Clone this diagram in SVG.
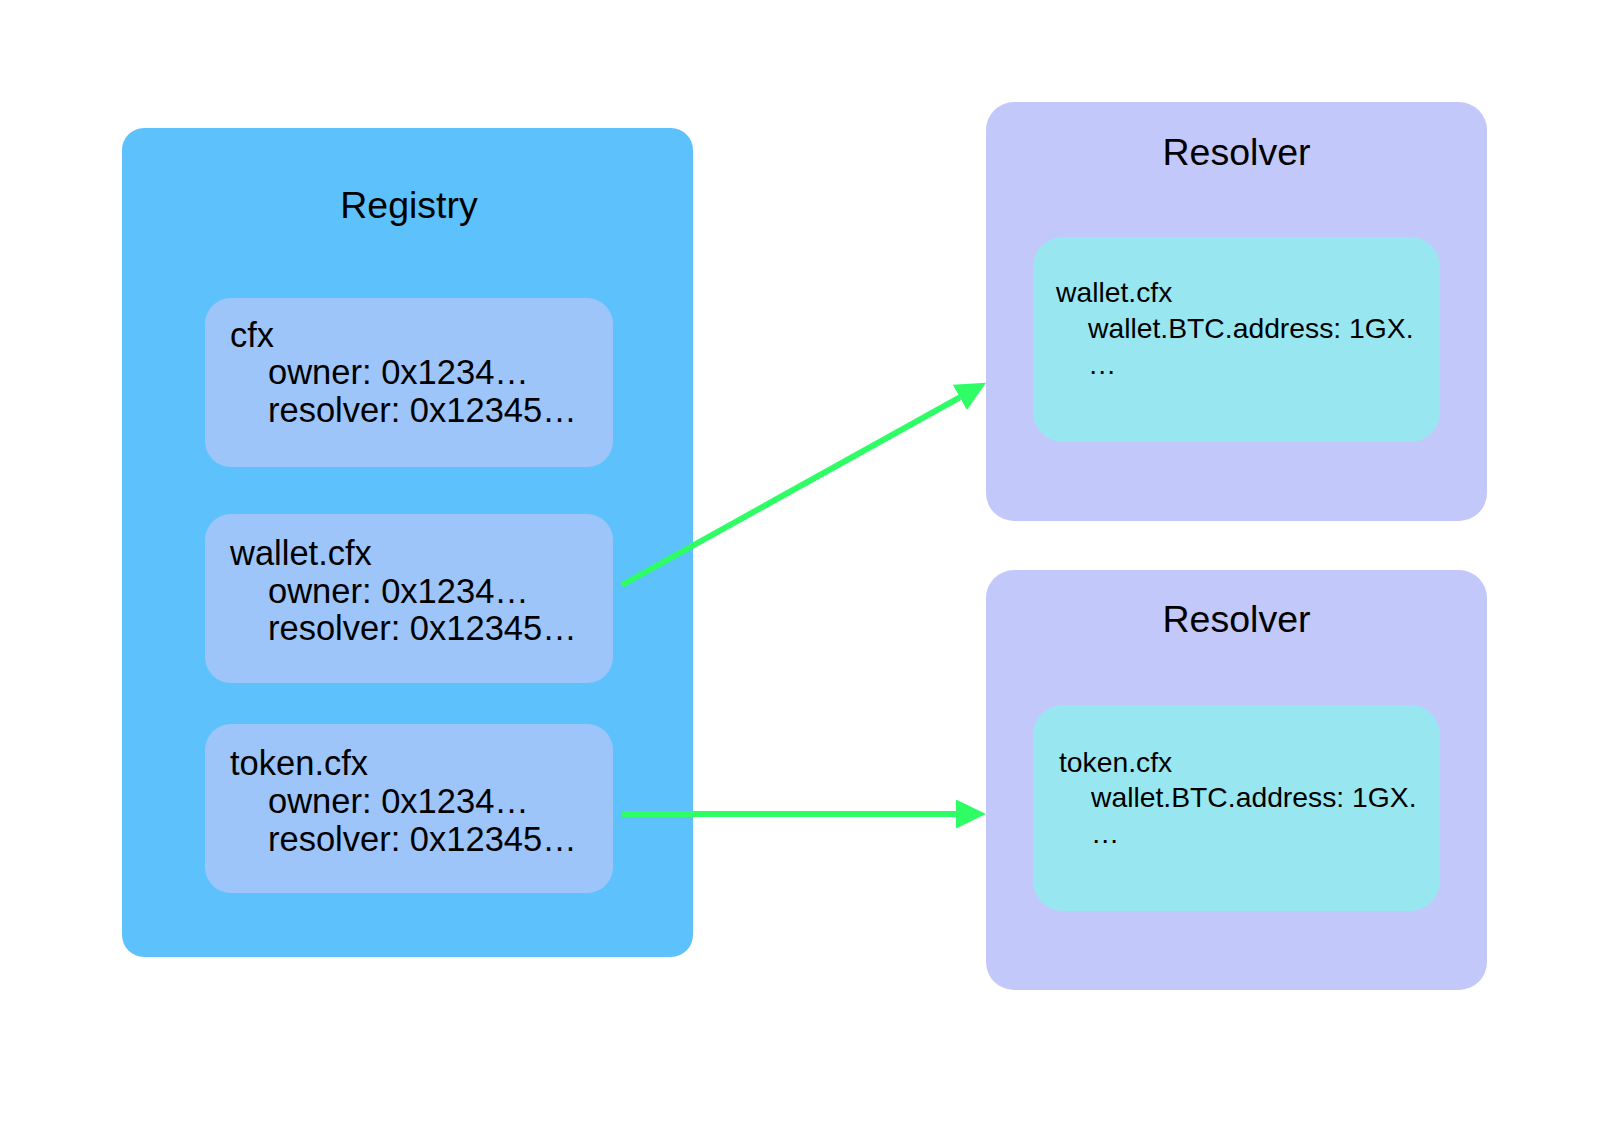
<svg xmlns="http://www.w3.org/2000/svg" width="1620" height="1124" viewBox="0 0 1620 1124">
  <style>
    text { font-family: "Liberation Sans", Arial, Helvetica, sans-serif; fill: #000000; }
    .title { font-size: 37.5px; text-anchor: middle; }
    .reg { font-size: 34.5px; }
    .res { font-size: 28.3px; }
    .registry { fill: #5DC2FC; }
    .entry { fill: #9DC5FA; }
    .resolver { fill: #C3C8FA; }
    .record { fill: #98E7F0; }
    .edge { stroke: #2EFD66; stroke-width: 6; fill: none; }
  </style>
  <defs>
    <marker id="arrow" markerUnits="userSpaceOnUse" markerWidth="30" markerHeight="29" refX="0" refY="14.5" orient="auto">
      <path d="M0,0 L30,14.5 L0,29 Z" fill="#2EFD66"/>
    </marker>
  </defs>
  <rect width="1620" height="1124" fill="#FFFFFF"/>

  <g id="registry">
    <rect class="registry" x="122" y="128" width="571" height="829" rx="22" ry="22"/>
    <text class="title" x="409" y="218">Registry</text>
  </g>

  <g id="entry-cfx">
    <rect class="entry" x="205" y="298" width="408" height="169" rx="26" ry="26"/>
    <text class="reg" x="230" y="347">cfx</text>
    <text class="reg" x="268" y="384">owner: 0x1234…</text>
    <text class="reg" x="268" y="422">resolver: 0x12345…</text>
  </g>

  <g id="entry-wallet">
    <rect class="entry" x="205" y="514" width="408" height="169" rx="26" ry="26"/>
    <text class="reg" x="230" y="565">wallet.cfx</text>
    <text class="reg" x="268" y="603">owner: 0x1234…</text>
    <text class="reg" x="268" y="640">resolver: 0x12345…</text>
  </g>

  <g id="entry-token">
    <rect class="entry" x="205" y="724" width="408" height="169" rx="26" ry="26"/>
    <text class="reg" x="230" y="775">token.cfx</text>
    <text class="reg" x="268" y="813">owner: 0x1234…</text>
    <text class="reg" x="268" y="851">resolver: 0x12345…</text>
  </g>

  <g id="resolver-wallet">
    <rect class="resolver" x="986" y="102" width="501" height="419" rx="28" ry="28"/>
    <text class="title" x="1236.5" y="165">Resolver</text>
    <rect class="record" x="1033" y="237" width="407" height="205" rx="30" ry="30"/>
    <text class="res" x="1056" y="302">wallet.cfx</text>
    <text class="res" x="1088" y="338">wallet.BTC.address: 1GX.</text>
    <text class="res" x="1088" y="374">…</text>
  </g>

  <g id="resolver-token">
    <rect class="resolver" x="986" y="570" width="501" height="420" rx="28" ry="28"/>
    <text class="title" x="1236.5" y="632">Resolver</text>
    <rect class="record" x="1033" y="705" width="407" height="206" rx="30" ry="30"/>
    <text class="res" x="1059" y="772">token.cfx</text>
    <text class="res" x="1091" y="807">wallet.BTC.address: 1GX.</text>
    <text class="res" x="1091" y="843">…</text>
  </g>

  <g id="connectors">
    <line class="edge" x1="622" y1="585" x2="959.8" y2="397.4" marker-end="url(#arrow)"/>
    <line class="edge" x1="622" y1="814" x2="956" y2="814" marker-end="url(#arrow)"/>
  </g>
</svg>
